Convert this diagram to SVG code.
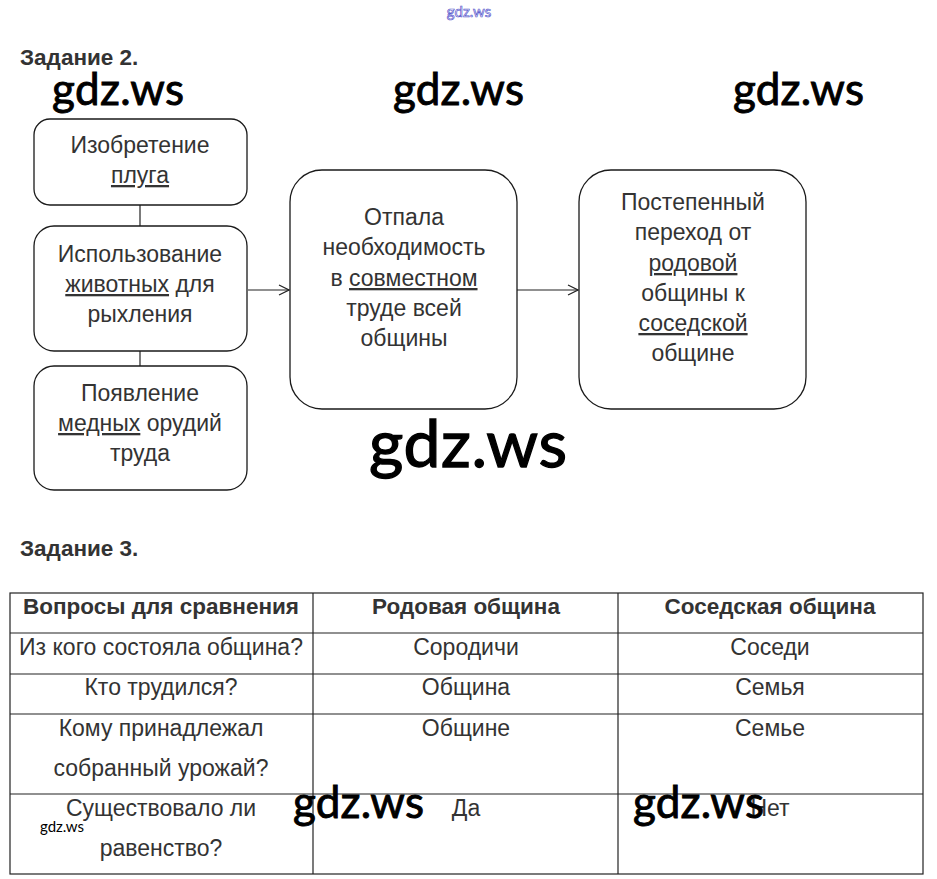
<svg xmlns="http://www.w3.org/2000/svg" width="937" height="879" viewBox="0 0 937 879">
<defs>
<style>
.box{fill:#fff;stroke:#1a1a1a;stroke-width:1.3}
.t{font-family:"Liberation Sans",Arial,sans-serif;font-size:23px;fill:#333;text-anchor:middle}
.ul{text-decoration:underline}
.h{font-family:"Liberation Sans",Arial,sans-serif;font-size:22.5px;font-weight:bold;fill:#333}
.th{font-family:"Liberation Sans",Arial,sans-serif;font-size:22.5px;font-weight:bold;fill:#333;text-anchor:middle}
.grid{stroke:#222;stroke-width:1.2;fill:none}
.wm{font-family:Lato,"Open Sans",sans-serif;fill:#000;stroke:#000;stroke-width:0.9}
.con{stroke:#222;stroke-width:1.2;fill:none}
</style>
<marker id="arr" viewBox="0 0 12 12" refX="11" refY="6" markerWidth="12" markerHeight="12" markerUnits="userSpaceOnUse" orient="auto">
<path d="M1,1 L11,6 L1,11" fill="none" stroke="#222" stroke-width="1.2"/>
</marker>
</defs>
<rect width="937" height="879" fill="#fff"/>

<text x="469" y="17" font-family="Lato,'Open Sans',sans-serif" font-size="15" fill="#fff" stroke="#5555cc" stroke-width="0.7" text-anchor="middle">gdz.ws</text>

<text class="h" x="20" y="65">Задание 2.</text>

<g id="connectors">
<line class="con" x1="140" y1="205" x2="140" y2="226"/>
<line class="con" x1="140" y1="351" x2="140" y2="366"/>
<line class="con" x1="248" y1="290" x2="289" y2="290" marker-end="url(#arr)"/>
<line class="con" x1="517" y1="290" x2="578" y2="290" marker-end="url(#arr)"/>
</g>

<g id="node-plug">
<rect class="box" x="34" y="119" width="213" height="86" rx="16"/>
<text class="t" x="140" y="153">Изобретение</text>
<text class="t" x="140" y="183"><tspan class="ul">плуга</tspan></text>
</g>

<g id="node-animals">
<rect class="box" x="34" y="226" width="213" height="125" rx="20"/>
<text class="t" x="140" y="262">Использование</text>
<text class="t" x="140" y="292"><tspan class="ul">животных</tspan> для</text>
<text class="t" x="140" y="322">рыхления</text>
</g>

<g id="node-copper">
<rect class="box" x="34" y="366" width="213" height="124" rx="20"/>
<text class="t" x="140" y="401">Появление</text>
<text class="t" x="140" y="431"><tspan class="ul">медных</tspan> орудий</text>
<text class="t" x="140" y="461">труда</text>
</g>

<g id="node-center">
<rect class="box" x="290" y="170" width="227" height="239" rx="32"/>
<text class="t" x="404" y="225">Отпала</text>
<text class="t" x="404" y="255">необходимость</text>
<text class="t" x="404" y="286">в <tspan class="ul">совместном</tspan></text>
<text class="t" x="404" y="316">труде всей</text>
<text class="t" x="404" y="346">общины</text>
</g>

<g id="node-right">
<rect class="box" x="579" y="170" width="227" height="239" rx="32"/>
<text class="t" x="693" y="210">Постепенный</text>
<text class="t" x="693" y="240">переход от</text>
<text class="t" x="693" y="271"><tspan class="ul" style="text-decoration-color:#6a2a2a">родовой</tspan></text>
<text class="t" x="693" y="301">общины к</text>
<text class="t" x="693" y="331"><tspan class="ul">соседской</tspan></text>
<text class="t" x="693" y="361">общине</text>
</g>

<text class="h" x="20" y="556">Задание 3.</text>

<g id="table">
<rect class="grid" x="10" y="593" width="913" height="281"/>
<line class="grid" x1="313" y1="593" x2="313" y2="874"/>
<line class="grid" x1="618" y1="593" x2="618" y2="874"/>
<line class="grid" x1="10" y1="633" x2="923" y2="633"/>
<line class="grid" x1="10" y1="674" x2="923" y2="674"/>
<line class="grid" x1="10" y1="714" x2="923" y2="714"/>
<line class="grid" x1="10" y1="794" x2="923" y2="794"/>

<text class="th" x="161" y="614">Вопросы для сравнения</text>
<text class="th" x="466" y="614">Родовая община</text>
<text class="th" x="770" y="614">Соседская община</text>

<text class="t" x="161" y="655">Из кого состояла община?</text>
<text class="t" x="466" y="655">Сородичи</text>
<text class="t" x="770" y="655">Соседи</text>

<text class="t" x="161" y="695">Кто трудился?</text>
<text class="t" x="466" y="695">Община</text>
<text class="t" x="770" y="695">Семья</text>

<text class="t" x="161" y="736">Кому принадлежал</text>
<text class="t" x="161" y="776">собранный урожай?</text>
<text class="t" x="466" y="736">Общине</text>
<text class="t" x="770" y="736">Семье</text>

<text class="t" x="161" y="816">Существовало ли</text>
<text class="t" x="161" y="856">равенство?</text>
<text class="t" x="466" y="816">Да</text>
<text class="t" x="770" y="816">Нет</text>
</g>

<g id="watermarks">
<text class="wm" x="52" y="105" font-size="44" textLength="132">gdz.ws</text>
<text class="wm" x="393" y="105" font-size="44" textLength="131">gdz.ws</text>
<text class="wm" x="733" y="105" font-size="44" textLength="131">gdz.ws</text>
<text class="wm" x="369" y="467" font-size="66" textLength="198" style="stroke-width:1.3">gdz.ws</text>
<text class="wm" x="293" y="818" font-size="44" textLength="131">gdz.ws</text>
<text class="wm" x="633" y="818" font-size="44" textLength="131">gdz.ws</text>
<text class="wm" x="40" y="832" font-size="15" textLength="44" style="stroke-width:0">gdz.ws</text>
</g>
</svg>
